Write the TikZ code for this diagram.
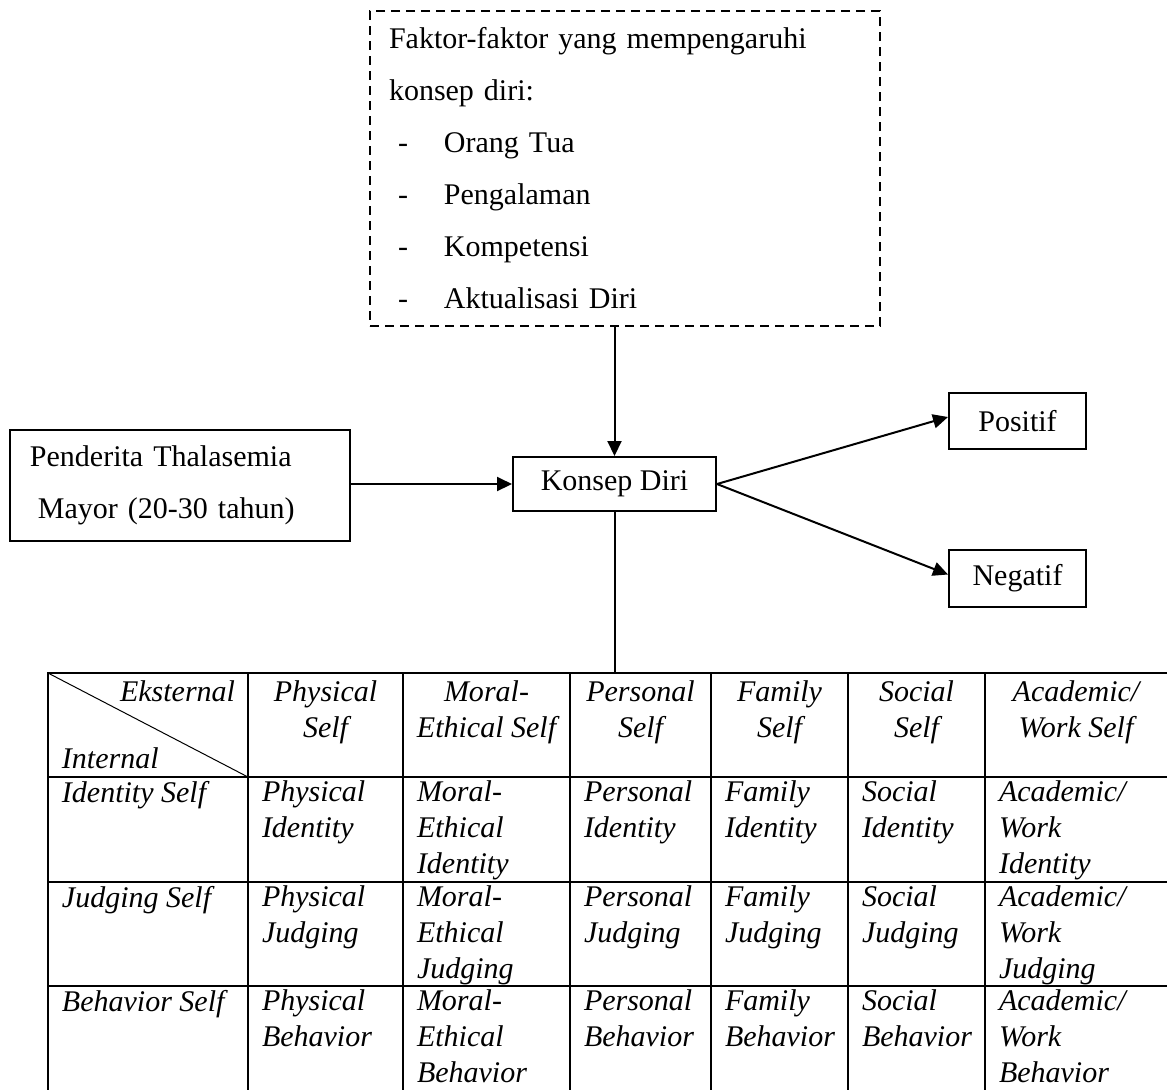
\documentclass[tikz,border=0pt]{standalone}
\usepackage{fontspec}
\setmainfont{Liberation Serif}
\usetikzlibrary{arrows.meta}
\newcommand{\butir}[1]{\makebox[22pt][l]{\hspace{3.6pt}-}#1}

\begin{document}
\begin{tikzpicture}[x=0.4pt,y=-0.4pt,line width=0.8pt,
	box/.style={draw,inner ysep=0pt,font=\fontsize{12}{20.8}\selectfont},
	garis/.style={-{Triangle[length=6pt,width=5.6pt]}},
	sel/.style={inner sep=0pt,anchor=north west,align=left,font=\fontsize{12}{14.4}\selectfont\itshape},
	judul/.style={inner sep=0pt,anchor=north,align=center,font=\fontsize{12}{14.4}\selectfont\itshape}]
	\useasboundingbox (0,0) rectangle (1167,1089);
	\node[box,dash pattern=on 3.6pt off 2.4pt,anchor=north west,minimum width=204pt,minimum height=126pt,inner xsep=7.6pt,text width=188.8pt,align=left] (faktor) at (369,10) {Faktor-faktor yang mempengaruhi\\konsep diri:\\\butir{Orang Tua}\\\butir{Pengalaman}\\\butir{Kompetensi}\\\butir{Aktualisasi Diri}};
	\node[box,minimum width=136pt,minimum height=44.4pt,inner xsep=8pt,text width=120pt,align=left] (penderita) at (180,485.5) {Penderita Thalasemia\\\hspace*{3.2pt}Mayor (20-30 tahun)};
	\node[box,minimum width=81.2pt,minimum height=21.6pt] (konsep) at (614.5,484) {Konsep Diri};
	\node[box,minimum width=54.8pt,minimum height=22.4pt] (positif) at (1017.5,421) {Positif};
	\node[box,minimum width=54.8pt,minimum height=22.8pt] (negatif) at (1017.5,578.5) {Negatif};
	\coordinate (atas) at (613,673);
	\draw[garis] (konsep.north |- faktor.south) -- (konsep.north);
	\draw[garis] (penderita.east |- konsep.west) -- (konsep.west);
	\draw[garis] (konsep.east) -- ([yshift=1.6pt]positif.west);
	\draw[garis] (konsep.east) -- ([yshift=1.6pt]negatif.west);
	\draw (konsep.south) -- (konsep.south |- atas);
	\foreach \y in {673,777,882,986} \draw[line cap=rect] (48,\y) -- (1167,\y);
	\foreach \x in {48,248,403,570,711,848,985} \draw[line cap=rect] (\x,673) -- (\x,1089);
	\draw[line width=0.4pt] (48,673) -- (248,777);
	\node[sel,anchor=north east] (eks) at (236,680) {Eksternal};
	\node[sel,anchor=base west] (int) at (61,768) {Internal};
	\foreach \atas/\bawah/\x [count=\k] in {Physical/Self/325.5, {Moral-}/{Ethical Self}/486.5, Personal/Self/640.5, Family/Self/779.5, Social/Self/916.5, {Academic/}/{Work Self}/1076}
		\node[judul] (h\k) at (\x,680) {\atas\\\bawah};
	\foreach \baris/\y [count=\r] in {Identity/777, Judging/882, Behavior/986} {
		\node[sel] (s\r-0) at (61,{\y+3}) {\baris\ Self};
		\foreach \nama/\x [count=\k] in {Physical/261, Personal/583, Family/724, Social/861}
			\node[sel] (s\r-\k) at (\x,{\y+3}) {\nama\\\baris};
		\node[sel] (m\r) at (416,{\y+3}) {Moral-\\Ethical\\\baris};
		\node[sel] (a\r) at (998,{\y+3}) {Academic/\\Work\\\baris};
	}
\end{tikzpicture}
\end{document}
